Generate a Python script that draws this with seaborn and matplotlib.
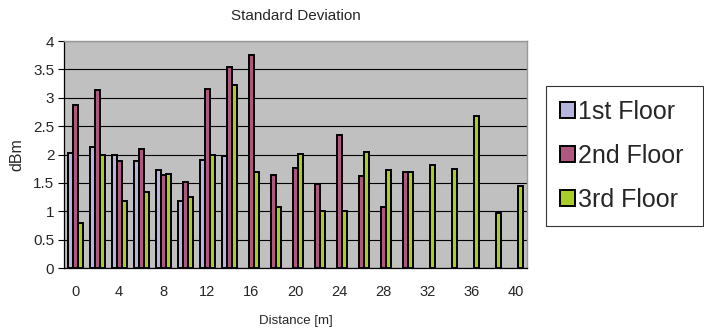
import numpy as np
import pandas as pd
import matplotlib
matplotlib.use("Agg")
import matplotlib.pyplot as plt
import seaborn as sns

# Standard deviation of received signal strength per distance and floor
distances = [0, 2, 4, 6, 8, 10, 12, 14, 16, 18, 20, 22, 24, 26, 28, 30, 32, 34, 36, 38, 40]
floors = ["1st Floor", "2nd Floor", "3rd Floor"]
first_floor = [2.03, 2.14, 2.00, 1.89, 1.72, 1.18, 1.91, 1.97,
               np.nan, np.nan, np.nan, np.nan, np.nan, np.nan, np.nan, np.nan,
               np.nan, np.nan, np.nan, np.nan, np.nan]
second_floor = [2.88, 3.14, 1.89, 2.09, 1.64, 1.51, 3.16, 3.55, 3.75, 1.64, 1.77,
                1.49, 2.35, 1.62, 1.08, 1.69, np.nan, np.nan, np.nan, np.nan, np.nan]
third_floor = [0.79, 2.00, 1.18, 1.34, 1.66, 1.26, 2.00, 3.23, 1.70, 1.08, 2.01,
               1.00, 1.00, 2.04, 1.73, 1.70, 1.81, 1.75, 2.68, 0.97, 1.44]
tick_labels = ["0", "4", "8", "12", "16", "20", "24", "28", "32", "36", "40"]

colors = ["#B4B4DC", "#B0577F", "#A8CC28"]

df = pd.DataFrame({
    "Distance": [str(d) for d in distances] * 3,
    "Floor": [floors[0]] * len(distances) + [floors[1]] * len(distances) + [floors[2]] * len(distances),
    "Std": first_floor + second_floor + third_floor,
})

sns.set_style("white")
plt.rcParams["font.family"] = ["Liberation Sans", "DejaVu Sans"]

fig = plt.figure(figsize=(7.04, 3.31), dpi=100)
ax = fig.add_axes([0.0909, 0.190, 0.6577, 0.686])

sns.barplot(data=df, x="Distance", y="Std", hue="Floor",
            order=[str(d) for d in distances], hue_order=floors,
            palette=colors, saturation=1, edgecolor="black", linewidth=1.4,
            width=0.68, gap=0, errorbar=None, ax=ax, zorder=3)

ax.set_facecolor("#C0C0C0")
ax.set_ylim(0, 4)
ax.set_xlim(-0.5, len(distances) - 0.5)
ax.set_yticks(np.arange(0, 4.01, 0.5))
ax.set_yticklabels(["0", "0.5", "1", "1.5", "2", "2.5", "3", "3.5", "4"], fontsize=11)
ax.yaxis.grid(True, color="black", linewidth=0.8, zorder=0)
ax.set_axisbelow(True)

# labels on every other category, tick marks between categories
ax.set_xticks(range(0, len(distances), 2))
ax.set_xticklabels(tick_labels, fontsize=10.5)
ax.set_xticks(np.arange(-0.5, len(distances), 1), minor=True)
ax.tick_params(axis="x", which="major", length=0, pad=12)
ax.tick_params(axis="x", which="minor", length=4, width=0.8, color="black", direction="out")
ax.tick_params(axis="y", length=4, width=0.8, color="black", direction="out", left=True, pad=3)

for side in ["left", "bottom"]:
    ax.spines[side].set_color("black")
    ax.spines[side].set_linewidth(0.9)
for side in ["top", "right"]:
    ax.spines[side].set_color("#999999")
    ax.spines[side].set_linewidth(1.0)

ax.set_title("Standard Deviation", fontsize=11, pad=15)
ax.set_xlabel("Distance [m]", fontsize=9.5, labelpad=12)
ax.set_ylabel("dBm", fontsize=11.5, labelpad=6)

handles, labels = ax.get_legend_handles_labels()
leg = ax.legend(handles, labels, loc="upper left",
                bbox_to_anchor=(0.776, 0.740, 0.223, 0.0), mode="expand",
                bbox_transform=fig.transFigure, fontsize=18, frameon=True,
                fancybox=False, edgecolor="black", handlelength=0.58,
                handleheight=0.58, handletextpad=0.15, labelspacing=0.8,
                borderpad=0.55, borderaxespad=0)
leg.get_frame().set_linewidth(0.8)

fig.savefig("out.png", dpi=100, facecolor="white")
